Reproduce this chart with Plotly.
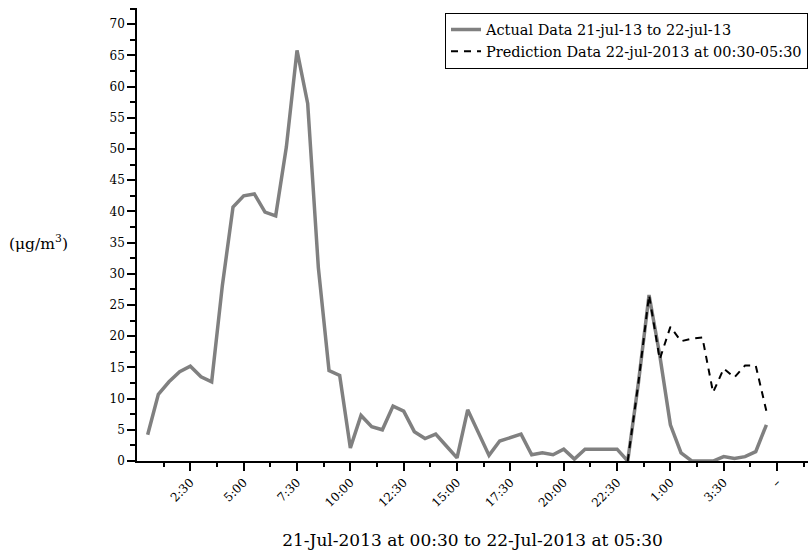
import numpy as np
import plotly.graph_objects as go

# Time axis: hours since 21-Jul-2013 00:00 (half-hourly readings)
actual_hours = [0.5 + 0.5 * i for i in range(59)]
actual_values = [
    4.2, 10.7, 12.7, 14.3, 15.2, 13.5, 12.7, 28.1, 40.7, 42.5,
    42.8, 39.9, 39.3, 50.3, 65.8, 57.3, 31.0, 14.5, 13.7, 2.1,
    7.3, 5.5, 5.0, 8.8, 8.0, 4.7, 3.6, 4.3, 2.4, 0.5,
    8.2, 4.5, 0.9, 3.2, 3.8, 4.3, 1.0, 1.3, 1.0, 1.9,
    0.3, 1.9, 1.9, 1.9, 1.9, 0.0, 12.5, 26.6, 17.0, 5.8,
    1.3, 0.0, 0.0, 0.0, 0.7, 0.4, 0.7, 1.5, 5.8,
]
pred_hours = [23.0 + 0.5 * i for i in range(14)]
pred_values = [0.0, 12.5, 26.6, 16.3, 21.5, 19.2, 19.6, 19.8, 11.0, 14.8, 13.4, 15.3, 15.3, 8.0]

x_tickvals = [2.5, 5, 7.5, 10, 12.5, 15, 17.5, 20, 22.5, 25, 27.5, 30]
x_ticktext = ["2:30", "5:00", "7:30", "10:00", "12:30", "15:00", "17:30",
              "20:00", "22:30", "1:00", "3:30", "–"]
x_minor = [1.25 + 2.5 * i for i in range(13)]

FONT = "DejaVu Serif"

fig = go.Figure()
fig.add_trace(go.Scatter(
    x=actual_hours, y=actual_values, mode="lines",
    name="Actual Data 21-jul-13 to 22-jul-13",
    line=dict(color="rgb(128,128,128)", width=3.5),
))
fig.add_trace(go.Scatter(
    x=pred_hours, y=pred_values, mode="lines",
    name="Prediction Data 22-jul-2013 at 00:30-05:30",
    line=dict(color="black", width=2, dash="7px,6px"),
))

fig.update_layout(
    width=811, height=551,
    margin=dict(l=137, r=3, t=8, b=90),
    paper_bgcolor="white", plot_bgcolor="white",
    font=dict(family=FONT, color="black", size=12),
    showlegend=True,
    legend=dict(
        x=1.0, y=0.99, xanchor="right", yanchor="top",
        bordercolor="black", borderwidth=1, bgcolor="white",
        font=dict(family=FONT, size=14.5), tracegroupgap=0,
        itemwidth=30,
    ),
    xaxis=dict(
        range=[0, 31.45], showgrid=False, zeroline=False,
        showline=True, linecolor="black", linewidth=1.5,
        ticks="outside", ticklen=8, tickwidth=1.5, tickcolor="black",
        tickmode="array", tickvals=x_tickvals, ticktext=x_ticktext,
        tickangle=-45, tickfont=dict(family=FONT, size=12),
        minor=dict(tickmode="array", tickvals=x_minor, ticks="outside",
                   ticklen=4, tickwidth=1.5, tickcolor="black", showgrid=False),
        title=dict(text="21-Jul-2013 at 00:30 to 22-Jul-2013 at 05:30",
                   font=dict(family=FONT, size=17), standoff=25),
    ),
    yaxis=dict(
        range=[0, 72.6], showgrid=False, zeroline=False,
        showline=True, linecolor="black", linewidth=1.5,
        ticks="outside", ticklen=8, tickwidth=1.5, tickcolor="black",
        dtick=5, tick0=0, tickfont=dict(family=FONT, size=12),
        minor=dict(dtick=2.5, ticks="outside", ticklen=5, tickwidth=1.5,
                   tickcolor="black", showgrid=False),
    ),
    annotations=[dict(
        text="(μg/m<sup>3</sup>)", xref="paper", yref="paper",
        x=-0.147, y=0.483, xanchor="center", yanchor="middle",
        showarrow=False, font=dict(family=FONT, size=15.5),
    )],
)

fig.write_html("out.html")
